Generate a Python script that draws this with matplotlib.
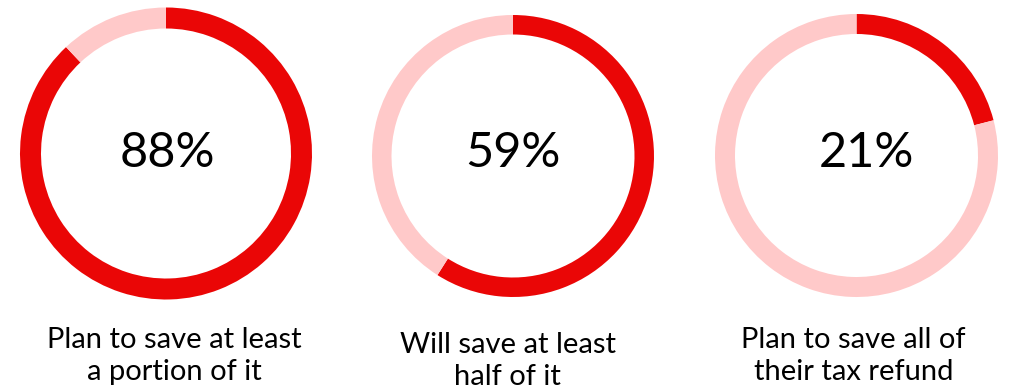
import matplotlib.pyplot as plt

plt.rcParams["font.family"] = ["Lato", "DejaVu Sans"]

shares = [88, 59, 21]
captions = [
    "Plan to save at least\na portion of it",
    "Will save at least\nhalf of it",
    "Plan to save all of\ntheir tax refund",
]

RED = "#EA0606"
PINK = "#FFC9C9"

W, H = 1010, 392
fig = plt.figure(figsize=(W / 100, H / 100), dpi=100)
ax = fig.add_axes([0, 0, 1, 1])

# ring geometry in pixel units (y measured from the top)
rings = [(166, 153.5, 146, 21), (513, 156, 141, 19.5), (856.5, 155.5, 141.5, 20)]
pct_x = [167.5, 512.5, 866]
cap_pos = [(174.5, 327), (507.5, 332), (853.5, 327)]

for share, caption, (cx, cy, r, w), px, (lx, ly) in zip(
    shares, captions, rings, pct_x, cap_pos
):
    ax.pie(
        [share, 100 - share],
        colors=[RED, PINK],
        startangle=90,
        counterclock=False,
        radius=r,
        center=(cx, H - cy),
        wedgeprops=dict(width=w, linewidth=0),
    )
    ax.text(px, H - 153, f"{share}%", ha="center", va="center",
            fontsize=35, color="black")
    ax.text(lx, H - ly, caption, ha="center", va="top",
            fontsize=21, color="black", linespacing=1.3)

ax.set_xlim(0, W)
ax.set_ylim(0, H)
ax.set_aspect("auto")
ax.axis("off")

plt.savefig("out.png", dpi=100, facecolor="white")
